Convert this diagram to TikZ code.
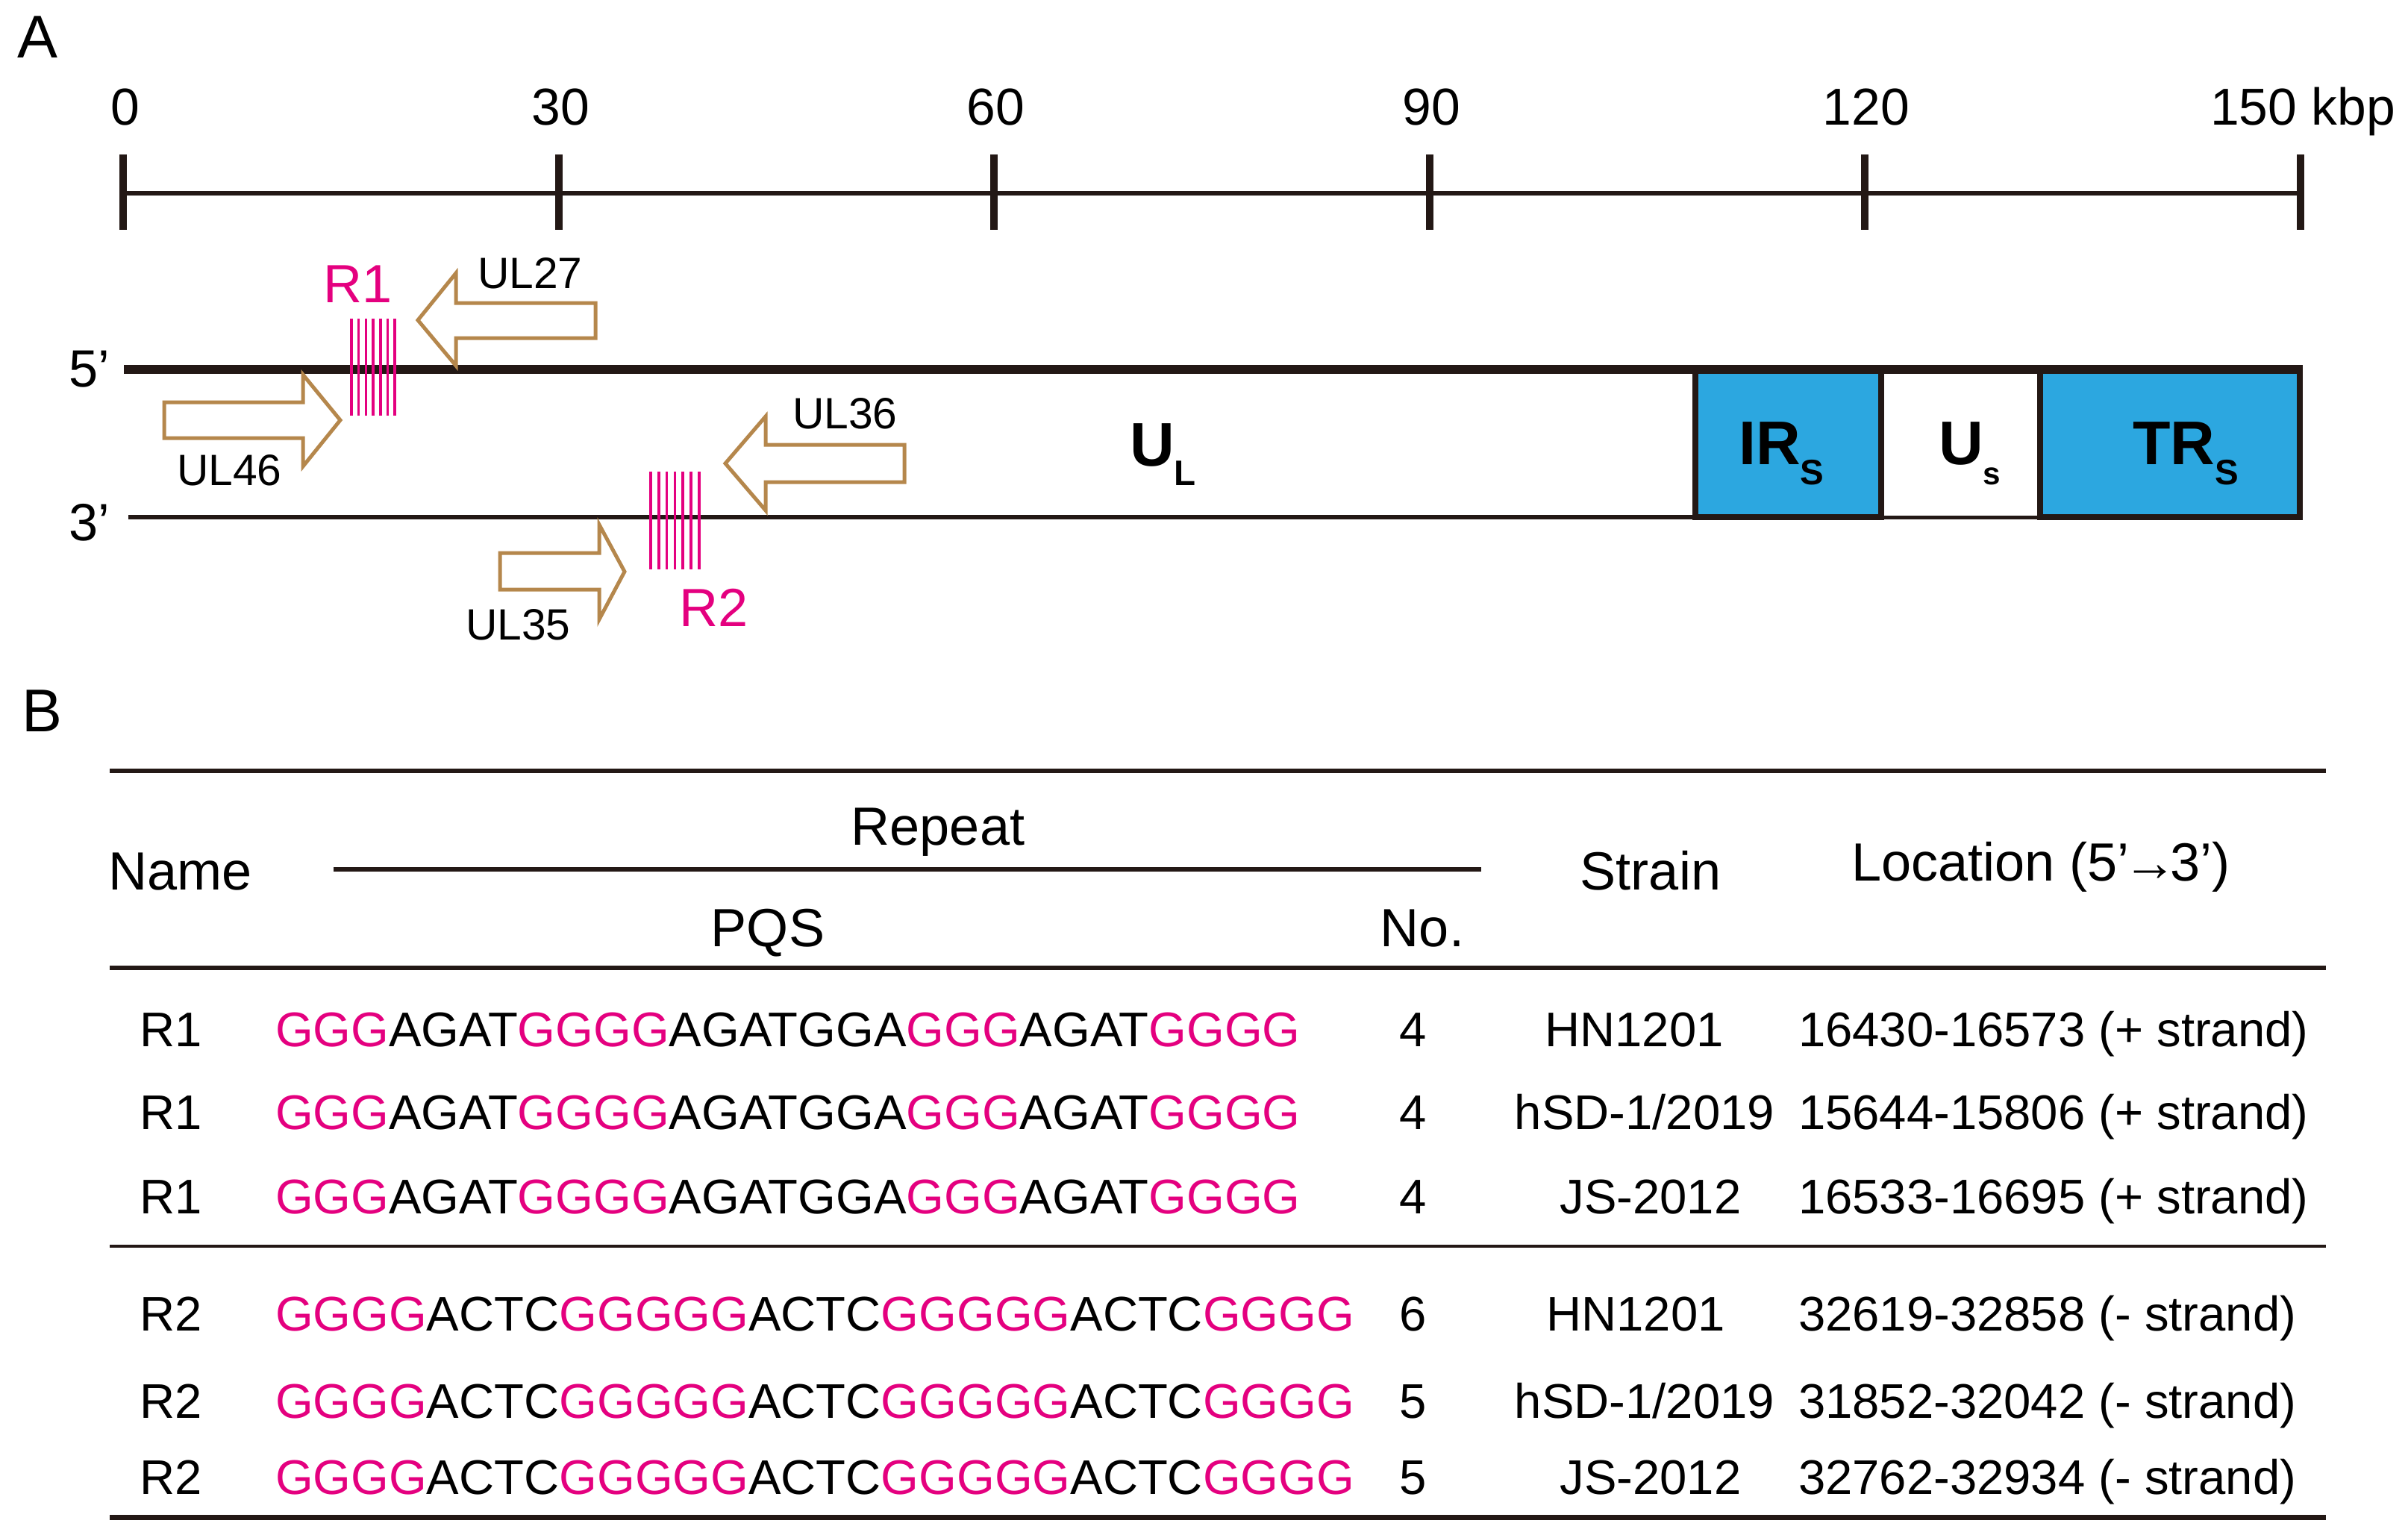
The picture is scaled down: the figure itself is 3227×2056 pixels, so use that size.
\documentclass[tikz,border=0pt]{standalone}
\usepackage{fontspec}
\setmainfont{Liberation Sans}
\definecolor{ink}{RGB}{35,24,21}
\definecolor{mag}{RGB}{228,0,127}
\definecolor{brn}{RGB}{181,135,76}
\definecolor{sky}{RGB}{44,167,224}
\newcommand{\mg}[1]{\textcolor{mag}{#1}}
\newcommand{\seqA}{\mg{GGG}AGAT\mg{GGGG}AGATGGA\mg{GGG}AGAT\mg{GGGG}}
\newcommand{\seqB}{\mg{GGGG}ACTC\mg{GGGGG}ACTC\mg{GGGGG}ACTC\mg{GGGG}}
\newcommand{\locarrow}{\kern-0.12em{\bfseries →}\kern-0.12em}
\begin{document}
\begin{tikzpicture}[x=0.01cm,y=-0.01cm,
  every node/.style={inner sep=0pt, outer sep=0pt},
  panel/.style={font=\fontsize{23}{27}\selectfont, anchor=base west},
  scalelbl/.style={font=\fontsize{19.8}{24}\selectfont, anchor=base},
  genelbl/.style={font=\fontsize{16.7}{20}\selectfont, anchor=base west},
  replbl/.style={font=\fontsize{20.5}{24}\selectfont, text=mag, anchor=base west},
  endlbl/.style={font=\fontsize{20}{24}\selectfont, anchor=base west},
  regionlbl/.style={font=\fontsize{23.5}{28}\selectfont\bfseries, anchor=base west},
  hdr/.style={font=\fontsize{20.5}{24}\selectfont, anchor=base},
  hdrw/.style={font=\fontsize{20.5}{24}\selectfont, anchor=base west},
  cell/.style={font=\fontsize{18.55}{22}\selectfont, anchor=base},
  cellw/.style={font=\fontsize{18.55}{22}\selectfont, anchor=base west},
  genearrow/.style={draw=brn, line width=0.05cm, fill=white, line join=miter},
  repmark/.style={draw=mag, line width=0.035cm},
  rule/.style={draw=ink, line width=0.065cm},
  thinrule/.style={draw=ink, line width=0.035cm}
]
\useasboundingbox (0,0) rectangle (3227,2056);

% ---------- Panel A ----------
\node[panel] (lblA) at (24,77) {A};

% scale bar
\draw[ink, line width=0.06cm] (165,259) -- (3083,259);
\foreach \i in {0,...,5}{
  \draw[ink, line width=0.1cm] ({165+\i*583.6},207) -- ({165+\i*583.6},308);
}
\node[scalelbl] (s0) at (168,167) {0};
\node[scalelbl] (s30) at (751,167) {30};
\node[scalelbl] (s60) at (1334,167) {60};
\node[scalelbl] (s90) at (1918,167) {90};
\node[scalelbl] (s120) at (2501,167) {120};
\node[scalelbl] (s150) at (3086,167) {150 kbp};

% genome boxes
\fill[sky] (2272,495) rectangle (2521,693);
\fill[sky] (2734,495) rectangle (3082,693);
\draw[ink, line width=0.06cm] (172,693) -- (2272,693);
\draw[ink, line width=0.05cm] (2521,693) -- (2734,693);
\draw[ink, line width=0.075cm] (2272,495) -- (2272,693) -- (2521,693) -- (2521,495);
\draw[ink, line width=0.075cm] (2734,495) -- (2734,693) -- (3082,693) -- (3082,495);
\draw[ink, line width=0.12cm] (166,495) -- (3086,495);

\node[endlbl] (p5) at (92,518) {5’};
\node[endlbl] (p3) at (92,724) {3’};

% gene arrows
\draw[genearrow] (798,406) -- (611,406) -- (611,366) -- (560,429) -- (611,490) -- (611,453) -- (798,453) -- cycle;
\draw[genearrow] (220,539) -- (406,539) -- (406,502) -- (456,563) -- (406,625) -- (406,587) -- (220,587) -- cycle;
\draw[genearrow] (1212,596) -- (1026,596) -- (1026,558) -- (972,621) -- (1026,684) -- (1026,646) -- (1212,646) -- cycle;
\draw[genearrow] (670,741) -- (803,741) -- (803,703) -- (837,766) -- (803,830) -- (803,790) -- (670,790) -- cycle;

% repeat marks
\foreach \k in {0,...,6}{
  \draw[repmark] ({471+\k*9.7},427) -- ({471+\k*9.7},557);
  \draw[repmark] ({872+\k*10.8},632) -- ({872+\k*10.8},763);
}

\node[genelbl] (ul27) at (640,386) {UL27};
\node[genelbl] (ul46) at (237,650) {UL46};
\node[genelbl] (ul36) at (1062,574) {UL36};
\node[genelbl] (ul35) at (624,857) {UL35};
\node[replbl] (r1) at (433,405) {R1};
\node[replbl] (r2) at (910,839) {R2};

\node[regionlbl] (ulab) at (1514,624) {U\raisebox{-0.26cm}{\fontsize{13.5}{16}\selectfont\bfseries L}};
\node[regionlbl] (irlab) at (2330,622) {IR\raisebox{-0.27cm}{\fontsize{13.5}{16}\selectfont\bfseries S}};
\node[regionlbl] (uslab) at (2598,622) {U\raisebox{-0.27cm}{\fontsize{12}{14}\selectfont\bfseries s}};
\node[regionlbl] (trlab) at (2858,622) {TR\raisebox{-0.27cm}{\fontsize{13.5}{16}\selectfont\bfseries S}};

% ---------- Panel B ----------
\node[panel] (lblB) at (30,980) {B};

\draw[rule] (147,1033) -- (3117,1033);
\draw[rule] (447,1165) -- (1985,1165);
\draw[rule] (147,1297) -- (3117,1297);
\draw[thinrule] (147,1670) -- (3117,1670);
\draw[ink, line width=0.07cm] (147,2033) -- (3117,2033);

\node[hdrw] (hname) at (145,1192) {Name};
\node[hdr] (hrep) at (1257,1132) {Repeat};
\node[hdr] (hpqs) at (1029,1268) {PQS};
\node[hdr] (hno) at (1906,1268) {No.};
\node[hdr] (hstrain) at (2212,1192) {Strain};
\node[hdr] (hloc) at (2735,1180) {Location (5’\locarrow3’)};

% rows
\node[cellw] (n1) at (187,1402) {R1};
\node[cellw] (q1) at (369,1402) {\seqA};
\node[cell] (c1) at (1894,1402) {4};
\node[cell] (s1) at (2190,1402) {HN1201};
\node[cellw] (l1) at (2410,1402) {16430-16573 (+ strand)};

\node[cellw] (n2) at (187,1513) {R1};
\node[cellw] (q2) at (369,1513) {\seqA};
\node[cell] (c2) at (1894,1513) {4};
\node[cell] (s2) at (2204,1513) {hSD-1/2019};
\node[cellw] (l2) at (2410,1513) {15644-15806 (+ strand)};

\node[cellw] (n3) at (187,1626) {R1};
\node[cellw] (q3) at (369,1626) {\seqA};
\node[cell] (c3) at (1894,1626) {4};
\node[cell] (s3) at (2212,1626) {JS-2012};
\node[cellw] (l3) at (2410,1626) {16533-16695 (+ strand)};

\node[cellw] (n4) at (187,1783) {R2};
\node[cellw] (q4) at (369,1783) {\seqB};
\node[cell] (c4) at (1894,1783) {6};
\node[cell] (s4) at (2192,1783) {HN1201};
\node[cellw] (l4) at (2410,1783) {32619-32858 (- strand)};

\node[cellw] (n5) at (187,1900) {R2};
\node[cellw] (q5) at (369,1900) {\seqB};
\node[cell] (c5) at (1894,1900) {5};
\node[cell] (s5) at (2204,1900) {hSD-1/2019};
\node[cellw] (l5) at (2410,1900) {31852-32042 (- strand)};

\node[cellw] (n6) at (187,2002) {R2};
\node[cellw] (q6) at (369,2002) {\seqB};
\node[cell] (c6) at (1894,2002) {5};
\node[cell] (s6) at (2212,2002) {JS-2012};
\node[cellw] (l6) at (2410,2002) {32762-32934 (- strand)};
\end{tikzpicture}
\end{document}
